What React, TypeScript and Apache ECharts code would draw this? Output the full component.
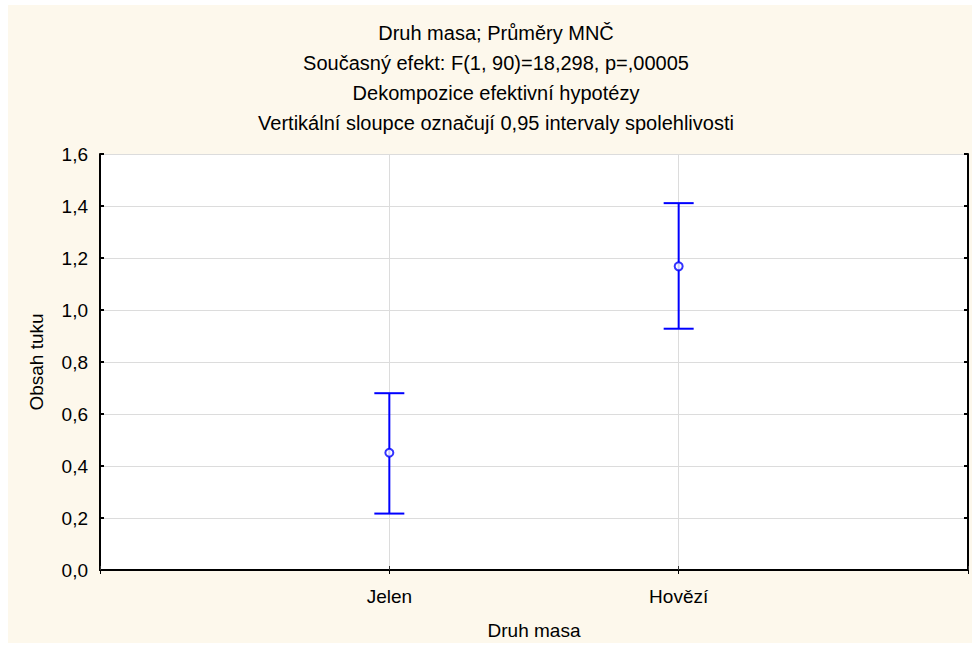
import React, { useEffect, useRef } from "react";
import * as echarts from "echarts";

const categories = ["", "Jelen", "Hovězí", ""];
const means = [0.451, 1.168];
const lower = [0.217, 0.928];
const upper = [0.680, 1.411];
const catIndex = [1, 2];
const titles = [
  "Druh masa; Průměry MNČ",
  "Současný efekt: F(1, 90)=18,298, p=,00005",
  "Dekompozice efektivní hypotézy",
  "Vertikální sloupce označují 0,95 intervaly spolehlivosti",
];
const yName = "Obsah tuku";
const xName = "Druh masa";

const FONT = "'Liberation Sans', Arial, sans-serif";
const BLUE = "#0000ff";

export default function App() {
  const ref = useRef<HTMLDivElement>(null);
  useEffect(() => {
    if (!ref.current) return;
    const chart = echarts.init(ref.current, undefined, { renderer: "svg" });
    const errData = catIndex.map((c, i) => [c, lower[i], upper[i]]);
    const meanData = catIndex.map((c, i) => [c, means[i]]);
    const axisLine = { show: true, lineStyle: { color: "#000", width: 2 } };
    chart.setOption({
      animation: false,
      backgroundColor: "#ffffff",
      textStyle: { fontFamily: FONT },
      graphic: [
        {
          type: "rect",
          z: -10,
          silent: true,
          shape: { x: 8, y: 5, width: 964, height: 638 },
          style: { fill: "#fdf8ec" },
        },
        ...titles.map((t, i) => ({
          type: "text",
          x: 496,
          y: 33 + i * 30,
          style: {
            text: t,
            fontSize: 20,
            fontFamily: FONT,
            fill: "#000",
            align: "center",
            verticalAlign: "middle",
          },
        })),
      ],
      grid: {
        left: 100,
        right: 8,
        top: 154,
        bottom: 84,
        show: true,
        backgroundColor: "#ffffff",
        borderWidth: 0,
      },
      xAxis: [
        {
          type: "category",
          data: categories,
          boundaryGap: false,
          position: "bottom",
          axisLine,
          axisTick: { show: true, inside: true, length: 4, lineStyle: { color: "#333" } },
          axisLabel: { fontSize: 19, color: "#000", margin: 17, fontFamily: FONT },
          splitLine: { show: true, lineStyle: { color: "#dcdcdc", width: 1 } },
          name: xName,
          nameLocation: "middle",
          nameGap: 51,
          nameTextStyle: { fontSize: 19, color: "#000", fontFamily: FONT },
        },
        {
          type: "category",
          data: categories,
          boundaryGap: false,
          position: "top",
          axisLine,
          axisTick: { show: true, inside: true, length: 4, lineStyle: { color: "#000" } },
          axisLabel: { show: false },
          splitLine: { show: false },
        },
      ],
      yAxis: [
        {
          type: "value",
          min: 0,
          max: 1.6,
          interval: 0.2,
          position: "left",
          axisLine,
          axisTick: { show: true, inside: true, length: 4, lineStyle: { color: "#000", width: 2 } },
          axisLabel: {
            fontSize: 19,
            color: "#000",
            margin: 12,
            fontFamily: FONT,
            formatter: (v: number) => v.toFixed(1).replace(".", ","),
          },
          splitLine: { show: true, lineStyle: { color: "#dcdcdc", width: 1 } },
          name: yName,
          nameLocation: "middle",
          nameGap: 54,
          nameRotate: 90,
          nameTextStyle: { fontSize: 19, color: "#000", fontFamily: FONT },
        },
        {
          type: "value",
          min: 0,
          max: 1.6,
          interval: 0.2,
          position: "right",
          axisLine,
          axisTick: { show: true, inside: true, length: 4, lineStyle: { color: "#000", width: 2 } },
          axisLabel: { show: false },
          splitLine: { show: false },
        },
      ],
      series: [
        {
          type: "custom",
          xAxisIndex: 0,
          yAxisIndex: 0,
          data: errData,
          z: 5,
          renderItem: (params: any, api: any) => {
            const x = api.value(0);
            const lo = api.coord([x, api.value(1)]);
            const hi = api.coord([x, api.value(2)]);
            const hw = 15;
            const style = { stroke: BLUE, lineWidth: 2, fill: "none" };
            return {
              type: "group",
              children: [
                { type: "line", shape: { x1: lo[0], y1: lo[1], x2: hi[0], y2: hi[1] }, style },
                { type: "line", shape: { x1: lo[0] - hw, y1: lo[1], x2: lo[0] + hw, y2: lo[1] }, style },
                { type: "line", shape: { x1: hi[0] - hw, y1: hi[1], x2: hi[0] + hw, y2: hi[1] }, style },
              ],
            };
          },
        },
        {
          type: "scatter",
          xAxisIndex: 0,
          yAxisIndex: 0,
          data: meanData,
          z: 6,
          symbol: "circle",
          symbolSize: 8,
          itemStyle: { color: "#ffffff", borderColor: BLUE, borderWidth: 2 },
        },
      ],
    });
    return () => chart.dispose();
  }, []);
  return (
    <div style={{ position: "fixed", left: 0, top: 0, width: 976, height: 654, background: "#fff" }}>
      <div ref={ref} style={{ width: 976, height: 654 }} />
    </div>
  );
}
